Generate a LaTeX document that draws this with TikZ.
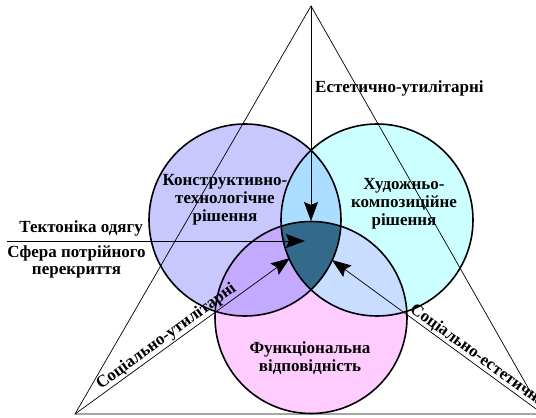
\documentclass[tikz,border=0pt]{standalone}
\usepackage{fontspec}
\setmainfont{Liberation Serif}
\usetikzlibrary{arrows.meta}
\definecolor{colK}{RGB}{200,200,255}
\definecolor{colH}{RGB}{204,255,255}
\definecolor{colF}{RGB}{255,204,255}
\definecolor{colKH}{RGB}{170,221,255}
\definecolor{colKF}{RGB}{196,170,255}
\definecolor{colHF}{RGB}{200,221,255}
\definecolor{colKHF}{RGB}{51,106,140}

\begin{document}
\begin{tikzpicture}[x = 1pt, y = 1pt, font = \bfseries\fontsize{17}{18}\selectfont]
	\tikzstyle{ringStyle}=[line width = 1.6pt]
	\tikzstyle{edgeStyle}=[line width = 0.7pt]
	\tikzstyle{arrowStyle}=[line width = 0.7pt, -{Stealth[length = 19pt, width = 14pt, inset = 3pt]}]
	\tikzstyle{labelStyle}=[align = center, inner sep = 0pt]
	\useasboundingbox (0,0) rectangle (536,418);
	\coordinate (apex) at (311,412);
	\coordinate (left) at (75,4);
	\coordinate (right) at (543,4);
	\coordinate (start) at (7,177);
	\coordinate (cK) at (245,198);
	\coordinate (cH) at (377,198);
	\coordinate (cF) at (311,100.5);
	\coordinate (tipE) at (311,197);
	\coordinate (tipT) at (305,177);
	\coordinate (tipU) at (290,160);
	\coordinate (tipS) at (332,158);
	\fill[colK] (cK) circle (96pt);
	\fill[colH] (cH) circle (96pt);
	\fill[colF] (cF) circle (96pt);
	\begin{scope}
		\clip (cH) circle (96pt);
		\fill[colHF] (cF) circle (96pt);
	\end{scope}
	\begin{scope}
		\clip (cK) circle (96pt);
		\fill[colKH] (cH) circle (96pt);
		\fill[colKF] (cF) circle (96pt);
		\clip (cH) circle (96pt);
		\fill[colKHF] (cF) circle (96pt);
	\end{scope}
	\draw[ringStyle] (cK) circle (96pt);
	\draw[ringStyle] (cH) circle (96pt);
	\draw[ringStyle] (cF) circle (96pt);
	\node[labelStyle] (konstr) at (225,218) {Конструктивно-\\технологічне\\рішення};
	\node[labelStyle] (khud) at (404,214) {Художньо-\\композиційне\\рішення};
	\node[labelStyle] (funk) at (310,60) {Функціональна\\відповідність};
	\node[labelStyle, anchor = base west] (estet) at (315,325) {Естетично-утилітарні};
	\node[labelStyle, anchor = base east] (tekt) at (143,185) {Тектоніка одягу};
	\node[labelStyle, font = \bfseries\fontsize{17}{16.5}\selectfont] (sfera) at (76.5,156) {Сфера потрійного\\перекриття};
	\draw[edgeStyle] (apex) -- (left) -- (right) -- cycle;
	\draw[arrowStyle] (apex) -- (tipE);
	\draw[arrowStyle] (start) -- (tipT);
	\draw[arrowStyle] (left) -- (tipU);
	\draw[arrowStyle] (right) -- (tipS);
	\path (left) -- (tipU) node[pos = 0.45, sloped, above, inner sep = 1pt] (sutil) {Соціально-утилітарні};
	\path (tipS) -- (right) node[pos = 0.66, sloped, above, inner sep = 1pt] (sestet) {Соціально-естетичні};
\end{tikzpicture}
\end{document}
